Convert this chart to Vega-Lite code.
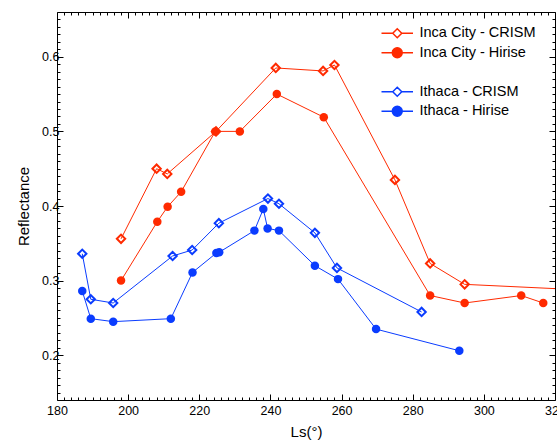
{
  "$schema": "https://vega.github.io/schema/vega-lite/v6.json",
  "width": 498,
  "height": 388,
  "autosize": {"type": "none"},
  "padding": {"left": 57, "top": 12, "right": 2, "bottom": 40},
  "background": "white",
  "config": {
    "view": {"stroke": "black", "strokeWidth": 1},
    "axis": {"labelFont": "Liberation Sans", "labelFontSize": 12.5, "labelColor": "black", "titleFont": "Liberation Sans", "titleFontSize": 15, "titleFontWeight": "normal", "titleColor": "black", "tickColor": "black", "tickWidth": 1, "domain": false, "grid": false},
    "legend": {"labelFont": "Liberation Sans", "labelFontSize": 14.5, "labelColor": "black"}
  },
  "data": {
    "values": [
      {"series": "Inca City - CRISM", "ls": 198.0, "r": 0.356},
      {"series": "Inca City - CRISM", "ls": 208.0, "r": 0.450},
      {"series": "Inca City - CRISM", "ls": 211.0, "r": 0.443},
      {"series": "Inca City - CRISM", "ls": 224.7, "r": 0.500},
      {"series": "Inca City - CRISM", "ls": 241.5, "r": 0.585},
      {"series": "Inca City - CRISM", "ls": 254.8, "r": 0.581},
      {"series": "Inca City - CRISM", "ls": 258.0, "r": 0.589},
      {"series": "Inca City - CRISM", "ls": 275.0, "r": 0.435},
      {"series": "Inca City - CRISM", "ls": 284.9, "r": 0.323},
      {"series": "Inca City - CRISM", "ls": 294.6, "r": 0.295},
      {"series": "Inca City - CRISM", "ls": 330.0, "r": 0.287},
      {"series": "Inca City - Hirise", "ls": 198.0, "r": 0.300},
      {"series": "Inca City - Hirise", "ls": 208.2, "r": 0.379},
      {"series": "Inca City - Hirise", "ls": 211.1, "r": 0.399},
      {"series": "Inca City - Hirise", "ls": 214.9, "r": 0.419},
      {"series": "Inca City - Hirise", "ls": 224.5, "r": 0.500},
      {"series": "Inca City - Hirise", "ls": 231.4, "r": 0.500},
      {"series": "Inca City - Hirise", "ls": 241.8, "r": 0.550},
      {"series": "Inca City - Hirise", "ls": 255.0, "r": 0.519},
      {"series": "Inca City - Hirise", "ls": 284.9, "r": 0.280},
      {"series": "Inca City - Hirise", "ls": 294.6, "r": 0.270},
      {"series": "Inca City - Hirise", "ls": 310.5, "r": 0.280},
      {"series": "Inca City - Hirise", "ls": 316.7, "r": 0.270},
      {"series": "Ithaca - CRISM", "ls": 187.1, "r": 0.336},
      {"series": "Ithaca - CRISM", "ls": 189.5, "r": 0.275},
      {"series": "Ithaca - CRISM", "ls": 195.8, "r": 0.270},
      {"series": "Ithaca - CRISM", "ls": 212.5, "r": 0.333},
      {"series": "Ithaca - CRISM", "ls": 218.0, "r": 0.341},
      {"series": "Ithaca - CRISM", "ls": 225.5, "r": 0.377},
      {"series": "Ithaca - CRISM", "ls": 239.3, "r": 0.410},
      {"series": "Ithaca - CRISM", "ls": 242.4, "r": 0.403},
      {"series": "Ithaca - CRISM", "ls": 252.5, "r": 0.364},
      {"series": "Ithaca - CRISM", "ls": 258.7, "r": 0.317},
      {"series": "Ithaca - CRISM", "ls": 282.5, "r": 0.258},
      {"series": "Ithaca - Hirise", "ls": 187.1, "r": 0.286},
      {"series": "Ithaca - Hirise", "ls": 189.5, "r": 0.249},
      {"series": "Ithaca - Hirise", "ls": 195.8, "r": 0.245},
      {"series": "Ithaca - Hirise", "ls": 212.0, "r": 0.249},
      {"series": "Ithaca - Hirise", "ls": 218.1, "r": 0.311},
      {"series": "Ithaca - Hirise", "ls": 224.8, "r": 0.337},
      {"series": "Ithaca - Hirise", "ls": 225.6, "r": 0.338},
      {"series": "Ithaca - Hirise", "ls": 235.5, "r": 0.367},
      {"series": "Ithaca - Hirise", "ls": 238.0, "r": 0.396},
      {"series": "Ithaca - Hirise", "ls": 239.2, "r": 0.370},
      {"series": "Ithaca - Hirise", "ls": 242.4, "r": 0.367},
      {"series": "Ithaca - Hirise", "ls": 252.5, "r": 0.320},
      {"series": "Ithaca - Hirise", "ls": 259.0, "r": 0.302},
      {"series": "Ithaca - Hirise", "ls": 269.7, "r": 0.235},
      {"series": "Ithaca - Hirise", "ls": 293.1, "r": 0.206}
    ]
  },
  "resolve": {"axis": {"x": "independent", "y": "independent"}},
  "layer": [
    {
      "mark": {"type": "line", "strokeWidth": 1, "clip": true},
      "encoding": {
        "x": {"field": "ls", "type": "quantitative", "scale": {"domain": [180, 320], "nice": false, "zero": false},
              "axis": {"orient": "bottom", "values": [180, 200, 220, 240, 260, 280, 300, 320], "tickSize": -6, "labelFlush": false, "labelPadding": 10, "title": "Ls(°)", "titlePadding": 8}},
        "y": {"field": "r", "type": "quantitative", "scale": {"domain": [0.14, 0.66], "nice": false, "zero": false},
              "axis": {"orient": "left", "values": [0.2, 0.3, 0.4, 0.5, 0.6], "format": ".1f", "tickSize": -6, "labelFlush": false, "labelPadding": 4, "title": "Reflectance", "titlePadding": 10}},
        "color": {"field": "series", "type": "nominal", "legend": null,
                  "scale": {"domain": ["Inca City - CRISM", "Inca City - Hirise", "Ithaca - CRISM", "Ithaca - Hirise"], "range": ["#FF2A00", "#FF2A00", "#0A3CFF", "#0A3CFF"]}},
        "detail": {"field": "series"}
      }
    },
    {
      "transform": [{"filter": "indexof(datum.series, 'Hirise') >= 0"}],
      "mark": {"type": "circle", "size": 72, "opacity": 1},
      "encoding": {
        "x": {"field": "ls", "type": "quantitative",
              "axis": {"orient": "top", "values": [180, 200, 220, 240, 260, 280, 300, 320], "tickSize": -6, "labels": false, "title": null}},
        "y": {"field": "r", "type": "quantitative",
              "axis": {"orient": "right", "values": [0.2, 0.3, 0.4, 0.5, 0.6], "tickSize": -6, "labels": false, "title": null}},
        "color": {"field": "series", "type": "nominal", "legend": null}
      }
    },
    {
      "transform": [{"filter": "indexof(datum.series, 'CRISM') >= 0 && datum.ls <= 320"}],
      "mark": {"type": "point", "shape": "diamond", "filled": false, "size": 70, "strokeWidth": 2, "opacity": 1},
      "encoding": {
        "x": {"field": "ls", "type": "quantitative",
              "axis": {"orient": "bottom", "values": [182,184,186,188,190,192,194,196,198,202,204,206,208,210,212,214,216,218,222,224,226,228,230,232,234,236,238,242,244,246,248,250,252,254,256,258,262,264,266,268,270,272,274,276,278,282,284,286,288,290,292,294,296,298,302,304,306,308,310,312,314,316,318], "tickSize": -3, "labels": false, "title": null}},
        "y": {"field": "r", "type": "quantitative",
              "axis": {"orient": "left", "values": [0.15,0.16,0.17,0.18,0.19,0.21,0.22,0.23,0.24,0.25,0.26,0.27,0.28,0.29,0.31,0.32,0.33,0.34,0.35,0.36,0.37,0.38,0.39,0.41,0.42,0.43,0.44,0.45,0.46,0.47,0.48,0.49,0.51,0.52,0.53,0.54,0.55,0.56,0.57,0.58,0.59,0.61,0.62,0.63,0.64,0.65], "tickSize": -3, "labels": false, "title": null}},
        "color": {"field": "series", "type": "nominal", "legend": null}
      }
    },
    {
      "transform": [{"filter": "datum.ls > 1000"}],
      "mark": {"type": "point", "filled": true, "opacity": 1},
      "encoding": {
        "x": {"field": "ls", "type": "quantitative",
              "axis": {"orient": "top", "values": [182,184,186,188,190,192,194,196,198,202,204,206,208,210,212,214,216,218,222,224,226,228,230,232,234,236,238,242,244,246,248,250,252,254,256,258,262,264,266,268,270,272,274,276,278,282,284,286,288,290,292,294,296,298,302,304,306,308,310,312,314,316,318], "tickSize": -3, "labels": false, "title": null}},
        "y": {"field": "r", "type": "quantitative",
              "axis": {"orient": "right", "values": [0.15,0.16,0.17,0.18,0.19,0.21,0.22,0.23,0.24,0.25,0.26,0.27,0.28,0.29,0.31,0.32,0.33,0.34,0.35,0.36,0.37,0.38,0.39,0.41,0.42,0.43,0.44,0.45,0.46,0.47,0.48,0.49,0.51,0.52,0.53,0.54,0.55,0.56,0.57,0.58,0.59,0.61,0.62,0.63,0.64,0.65], "tickSize": -3, "labels": false, "title": null}},
        "stroke": {"field": "series", "type": "nominal",
                   "scale": {"domain": ["Inca City - CRISM", "Inca City - Hirise", " ", "Ithaca - CRISM", "Ithaca - Hirise"], "range": ["#FF2A00", "#FF2A00", "transparent", "#0A3CFF", "#0A3CFF"]},
                   "legend": {"title": null, "orient": "none", "legendX": 333, "legendY": 14, "padding": 0, "symbolSize": 81, "symbolStrokeWidth": 1.5, "labelOffset": 15, "rowPadding": 3.5, "symbolOpacity": 1}},
        "fill": {"field": "series", "type": "nominal",
                 "scale": {"domain": ["Inca City - CRISM", "Inca City - Hirise", " ", "Ithaca - CRISM", "Ithaca - Hirise"], "range": ["white", "#FF2A00", "transparent", "white", "#0A3CFF"]}},
        "shape": {"field": "series", "type": "nominal",
                  "scale": {"domain": ["Inca City - CRISM", "Inca City - Hirise", " ", "Ithaca - CRISM", "Ithaca - Hirise"],
                            "range": ["M-3.5,0H-1M1,0H3.5M0,-1L1,0L0,1L-1,0Z", "M-3.5,0H3.5M1.1,0A1.1,1.1,0,1,1,-1.1,0A1.1,1.1,0,1,1,1.1,0Z", "M0,0", "M-3.5,0H-1M1,0H3.5M0,-1L1,0L0,1L-1,0Z", "M-3.5,0H3.5M1.1,0A1.1,1.1,0,1,1,-1.1,0A1.1,1.1,0,1,1,1.1,0Z"]}}
      }
    }
  ]
}
